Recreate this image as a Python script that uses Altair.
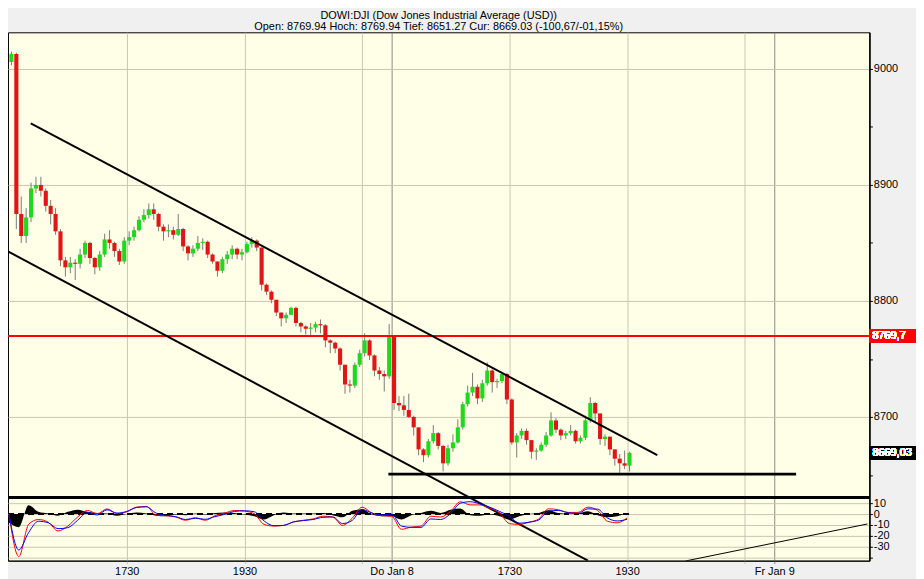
import altair as alt
import pandas as pd

title_lines = [
    "DOWI:DJI (Dow Jones Industrial Average (USD))",
    "Open: 8769.94 Hoch: 8769.94 Tief: 8651.27 Cur: 8669.03 (-100,67/-01,15%)",
]

# ---- 5-minute candles, day 1 (15:30-22:00) ----
d1_open = [9006, 9013, 8875, 8856, 8872, 8897, 8900, 8895, 8882, 8875,
           8860, 8835, 8829, 8833, 8832, 8840, 8850, 8837, 8829, 8840,
           8853, 8850, 8843, 8834, 8852, 8855, 8861, 8870, 8874, 8879,
           8875, 8864, 8860, 8861, 8857, 8862, 8847, 8841, 8845, 8850,
           8851, 8840, 8834, 8826, 8836, 8840, 8845, 8840, 8842, 8849,
           8852, 8846, 8814, 8808, 8801, 8790, 8785, 8788, 8794, 8781,
           8778, 8776, 8777, 8780, 8779, 8766, 8764, 8759, 8745, 8728,
           8727, 8745, 8755, 8766, 8753, 8740, 8737, 8735]
d1_high = [9015, 9014, 8890, 8880, 8902, 8907, 8907, 8897, 8887, 8880,
           8862, 8838, 8838, 8836, 8845, 8852, 8851, 8838, 8843, 8858,
           8861, 8851, 8845, 8855, 8860, 8864, 8873, 8879, 8884, 8884,
           8876, 8866, 8866, 8864, 8875, 8863, 8848, 8848, 8856, 8854,
           8852, 8841, 8834, 8838, 8843, 8848, 8846, 8845, 8851, 8855,
           8853, 8846, 8815, 8809, 8801, 8790, 8790, 8795, 8795, 8782,
           8779, 8781, 8782, 8784, 8780, 8767, 8765, 8760, 8745, 8732,
           8747, 8758, 8772, 8767, 8754, 8743, 8740, 8780]
d1_low = [9003, 8862, 8850, 8850, 8868, 8893, 8890, 8877, 8866, 8857,
          8830, 8821, 8824, 8818, 8828, 8837, 8832, 8823, 8826, 8838,
          8845, 8838, 8831, 8832, 8848, 8852, 8860, 8868, 8871, 8870,
          8860, 8852, 8855, 8853, 8856, 8843, 8835, 8838, 8843, 8844,
          8837, 8832, 8821, 8824, 8832, 8836, 8836, 8835, 8841, 8846,
          8843, 8809, 8805, 8798, 8787, 8778, 8781, 8788, 8778, 8773,
          8771, 8770, 8773, 8772, 8760, 8755, 8755, 8740, 8720, 8721,
          8725, 8743, 8752, 8749, 8735, 8732, 8722, 8733]
d1_close = [9013, 8875, 8856, 8872, 8897, 8900, 8895, 8882, 8875, 8860,
            8835, 8829, 8833, 8832, 8840, 8850, 8837, 8829, 8840, 8853,
            8850, 8843, 8834, 8852, 8855, 8861, 8870, 8874, 8879, 8875,
            8864, 8860, 8861, 8857, 8862, 8847, 8841, 8845, 8850, 8851,
            8840, 8834, 8826, 8836, 8840, 8845, 8840, 8842, 8849, 8852,
            8846, 8814, 8808, 8801, 8790, 8785, 8788, 8794, 8781, 8778,
            8776, 8777, 8780, 8779, 8766, 8764, 8759, 8745, 8728, 8727,
            8745, 8755, 8766, 8753, 8740, 8737, 8735, 8769.7]

# ---- 5-minute candles, day 2 (Do Jan 8, 15:30-19:35) ----
d2_open = [8769.94, 8712, 8710, 8706, 8700, 8691, 8672, 8667, 8679, 8686,
           8675, 8660, 8673, 8678, 8691, 8711, 8721, 8726, 8716, 8729,
           8740, 8730, 8731, 8737, 8715, 8678, 8684, 8688, 8680, 8670,
           8671, 8676, 8684, 8697, 8689, 8684, 8686, 8688, 8679, 8682,
           8697, 8712, 8703, 8681, 8683, 8672, 8664, 8660, 8658]
d2_high = [8769.94, 8718, 8718, 8720, 8701, 8691, 8673, 8681, 8693, 8687,
           8676, 8676, 8685, 8698, 8713, 8727, 8738, 8728, 8732, 8747,
           8741, 8733, 8738, 8738, 8716, 8686, 8690, 8690, 8680, 8673,
           8678, 8687, 8704, 8699, 8690, 8688, 8693, 8689, 8684, 8701,
           8717, 8713, 8703, 8685, 8683, 8672, 8668, 8671, 8670]
d2_low = [8706, 8705, 8701, 8699, 8684, 8667, 8661, 8665, 8677, 8672,
          8653, 8658, 8670, 8677, 8689, 8709, 8718, 8711, 8713, 8727,
          8721, 8725, 8729, 8711, 8676, 8665, 8681, 8676, 8664, 8663,
          8670, 8674, 8683, 8686, 8680, 8681, 8684, 8677, 8677, 8680,
          8695, 8695, 8676, 8675, 8667, 8658, 8651.27, 8655, 8653]
d2_close = [8712, 8710, 8706, 8700, 8691, 8672, 8667, 8679, 8686, 8675,
            8660, 8673, 8678, 8691, 8711, 8721, 8726, 8716, 8729, 8740,
            8730, 8731, 8737, 8715, 8678, 8684, 8688, 8680, 8670, 8671,
            8676, 8684, 8697, 8689, 8684, 8686, 8688, 8679, 8682, 8697,
            8712, 8703, 8681, 8683, 8672, 8664, 8660, 8658, 8669.03]

# ---- indicator (10-minute samples) ----
ind1_red = [0, -39, -9.5, -5, -7.5, -15.5, -11, -2.7, 3.3, 0.3,
            4.8, 0.3, 2, 6.3, 6.9, -0.9, -1.5, -2.7, -5.7, -3.3,
            -5.7, -1.5, 0.9, 3.3, 2.7, 0.3, -9.5, -11, -10.4, -7.2,
            -5.7, -4.5, -2, -2.7, -10.4, -3.6, 6.3, 0.9, -1.5]
ind1_blue = [0, -33, -17, -6.6, -8, -13.4, -12.5, -5.7, 1.5, -0.9,
             3.9, 0.9, 2.4, 6, 6.6, 0.9, -1.2, -2.4, -5, -3.9,
             -4.8, -2.4, -0.3, 2.4, 3, 2.1, -6.3, -10.7, -10.4, -7.2,
             -6, -5, -3, -2.7, -8.7, -5.7, 4.2, 0.9, -0.9]
ind1_hist = [-8, -12, 8, 2, 0.5, -1.5, 2, 4, 2, 1,
             0.5, -1.5, 0, 1.5, 0.5, -1.5, -2, -0.5, -1, 0.5,
             -0.5, 1, 1.5, 1, -0.3, -2, -5, -1, 1.5, 0.5,
             0.5, 0.5, 1, -1, -3, 3, 4.5, -0.5, -2]
ind2_red = [-2, -14, -12, -11, -2, -2.7, 2.4, 11.3, 8.4, 8.4,
            5.4, 0.9, -8.7, -9.5, -7.5, -4.5, 4.8, 3.9, 1.5, 1.5,
            6.3, 3.3, -6.6, -8, -3.6]
ind2_blue = [0, -11, -12.2, -12.2, -4.5, -5, 0.3, 9.9, 11.3, 9.3,
             6.3, 2.4, -2, -8.4, -7.5, -5.4, 2.7, 3.3, 1.2, 0.6,
             4.8, 4.5, -3.6, -6.3, -4.8]
ind2_hist = [-2, -5, -1, 1, 3, 1, 4, 5, -1, -1.5,
             -0.5, -2, -5, -2, 0, 1, 3.5, 1, 0.5, 0.5,
             2.5, -1, -3, -2, 1]

# ---- drawn lines (minutes since day-1 open, price / indicator value) ----
upper_t = [22.2, 660.8]
upper_p = [8953.0, 8667.0]
lower_t = [-3.0, 590.1]
lower_p = [8843.6, 8576.1]
support_t = [386.7, 802.3]
support_p = [8650.7, 8650.7]
ind_line_t = [689.8, 875.0]
ind_line_v = [-43.0, -9.1]

prev_close = 8769.7
prev_close_label = "8769,7"
cur_price = 8669.03
cur_label = "8669,03"

x_tick_values = [120, 240, 360, 390, 510, 630, 750, 780]
x_tick_labels = ["1730", "1930", "", "Do Jan 8", "1730", "1930", "", "Fr Jan 9"]
day_lines = [390, 780]
price_ticks = [8650, 8700, 8750, 8800, 8850, 8900, 8950, 9000]
ind_ticks = [10, 0, -10, -20, -30, -40]

# ---- build tables ----
rows = []
for i in range(len(d1_open)):
    rows.append((5 * i, d1_open[i], d1_high[i], d1_low[i], d1_close[i]))
for j in range(len(d2_open)):
    rows.append((390 + 5 * j, d2_open[j], d2_high[j], d2_low[j], d2_close[j]))
cdf = pd.DataFrame(rows, columns=["t", "open", "high", "low", "close"])
cdf["tm"] = cdf["t"] + 2.5
cdf["b0"] = cdf["t"] + 0.4
cdf["b1"] = cdf["t"] + 4.6
cdf["dir"] = ["up" if c >= o else "down" for o, c in zip(cdf["open"], cdf["close"])]

it = [10 * k for k in range(len(ind1_red))] + [390 + 10 * m for m in range(len(ind2_red))]
idf = pd.DataFrame({
    "t": it,
    "red": ind1_red + ind2_red,
    "blue": ind1_blue + ind2_blue,
    "hist": ind1_hist + ind2_hist,
})

FONT = "Liberation Sans"
W, H = 869, 533
xscale = alt.Scale(domain=[-1, 877], nice=False, zero=False)
pscale = alt.Scale(domain=[8576.1, 9031.6], nice=False, zero=False)
iscale = alt.Scale(domain=[-42.73, 441.8], nice=False, zero=False)

lab_expr = " : ".join(
    f"datum.value == {v} ? '{l}'" for v, l in zip(x_tick_values, x_tick_labels)
) + " : ''"
day_test = " || ".join(f"datum.value == {d}" for d in day_lines)

xaxis = alt.Axis(
    values=x_tick_values, labelExpr=lab_expr, grid=True,
    gridColor={"condition": {"test": day_test, "value": "#8a8a8a"}, "value": "#c8c5b2"},
    tickColor={"condition": {"test": day_test, "value": "#8a8a8a"}, "value": "#c8c5b2"},
    tickSize=3, labelPadding=2, labelOverlap=False, labelFlush=False,
    domainColor="black", labelFont=FONT, labelFontSize=11, labelColor="black", title=None,
)
paxis = alt.Axis(
    orient="right", values=price_ticks,
    labelExpr="datum.value % 100 == 0 ? '' + datum.value : ''",
    grid=True,
    gridOpacity={"condition": {"test": "datum.value % 100 == 0", "value": 1}, "value": 0},
    gridColor="#c8c5b2", tickColor="black", tickSize=3, labelPadding=1,
    labelOverlap=False, labelFlush=False, domainColor="black",
    labelFont=FONT, labelFontSize=11, labelColor="black", title=None,
)
iaxis = alt.Axis(
    orient="right", values=ind_ticks,
    labelExpr="datum.value > -40 ? '' + datum.value : ''",
    grid=True, gridColor="#c8c5b2", tickColor="black", tickSize=3, labelPadding=1,
    labelOverlap=False, labelFlush=False, domainColor="black",
    labelFont=FONT, labelFontSize=11, labelColor="black", title=None,
)

base = alt.Chart(cdf)
wick = base.mark_rule(color="#7a7a7a", strokeWidth=1).encode(
    x=alt.X("tm:Q", scale=xscale, axis=xaxis, title=None),
    y=alt.Y("low:Q", scale=pscale, axis=paxis, title=None),
    y2="high:Q",
)
up = base.transform_filter("datum.dir == 'up'").mark_rect(color="#1fd81f").encode(
    x=alt.X("b0:Q", title=None), x2="b1:Q",
    y=alt.Y("open:Q", title=None), y2="close:Q",
)
down = base.transform_filter("datum.dir == 'down'").mark_rect(color="#e01515").encode(
    x=alt.X("b0:Q", title=None), x2="b1:Q",
    y=alt.Y("open:Q", title=None), y2="close:Q",
)


def seg(ts, ps, width, color="black"):
    d = pd.DataFrame({"t": ts, "p": ps})
    return alt.Chart(d).mark_line(color=color, strokeWidth=width, clip=True).encode(
        x=alt.X("t:Q", title=None), y=alt.Y("p:Q", title=None)
    )


red_rule = alt.Chart(cdf).mark_rule(color="#ff0000", strokeWidth=1).encode(
    y=alt.datum(prev_close)
)
upper = seg(upper_t, upper_p, 2)
lower = seg(lower_t, lower_p, 2)
support = seg(support_t, support_p, 3)

red_box = alt.Chart(cdf).mark_rect(color="#ff0000", clip=False, yOffset=-7, y2Offset=7).encode(
    x=alt.value(W), x2=alt.value(W + 47), y=alt.datum(prev_close), y2=alt.datum(prev_close)
)
red_txt = alt.Chart(cdf).mark_text(
    color="white", align="left", baseline="middle", font=FONT, fontSize=11, clip=False
).encode(x=alt.value(W + 3), y=alt.datum(prev_close), text=alt.value(prev_close_label))
cur_box = alt.Chart(cdf).mark_rect(color="#000000", clip=False, yOffset=-7, y2Offset=7).encode(
    x=alt.value(W), x2=alt.value(W + 47), y=alt.datum(cur_price), y2=alt.datum(cur_price)
)
cur_txt = alt.Chart(cdf).mark_text(
    color="white", align="left", baseline="middle", font=FONT, fontSize=11, clip=False
).encode(x=alt.value(W + 3), y=alt.datum(cur_price), text=alt.value(cur_label))

price_layer = alt.layer(
    wick, up, down, red_rule, upper, lower, support, red_box, red_txt, cur_box, cur_txt
)

ibase = alt.Chart(idf)
hist = ibase.mark_area(color="black", interpolate="monotone").encode(
    x=alt.X("t:Q", scale=xscale, title=None),
    y=alt.Y("hist:Q", scale=iscale, axis=iaxis, title=None),
    y2=alt.datum(0),
)
zero = ibase.mark_rule(color="black", strokeWidth=1.5, strokeDash=[5, 5]).encode(
    x=alt.datum(0), x2=alt.datum(635), y=alt.datum(0)
)
red_l = ibase.mark_line(color="#ff0000", strokeWidth=1, interpolate="monotone").encode(
    x=alt.X("t:Q", title=None), y=alt.Y("red:Q", title=None)
)
blue_l = ibase.mark_line(color="#0000ff", strokeWidth=1, interpolate="monotone").encode(
    x=alt.X("t:Q", title=None), y=alt.Y("blue:Q", title=None)
)
sep = ibase.mark_rule(color="black", strokeWidth=2).encode(y=alt.datum(15))
ind_line = seg(ind_line_t, ind_line_v, 1)

ind_layer = alt.layer(hist, zero, red_l, blue_l, ind_line, sep)

chart = alt.layer(price_layer, ind_layer).resolve_scale(y="independent").resolve_axis(
    y="independent"
).properties(
    width=W, height=H,
    autosize=alt.AutoSizeParams(type="none"),
    padding={"left": 0, "top": 22, "right": 47, "bottom": 16},
    background="#f0f0f0",
    title=alt.TitleParams(
        text=title_lines, font=FONT, fontSize=11, fontWeight="normal", color="black",
        anchor="middle", baseline="bottom", offset=2, lineHeight=11, dy=13,
    ),
).configure_view(fill="#fffee6", stroke="black", strokeWidth=1)

chart.save("out.html", embed_options={"renderer": "svg", "actions": False})
